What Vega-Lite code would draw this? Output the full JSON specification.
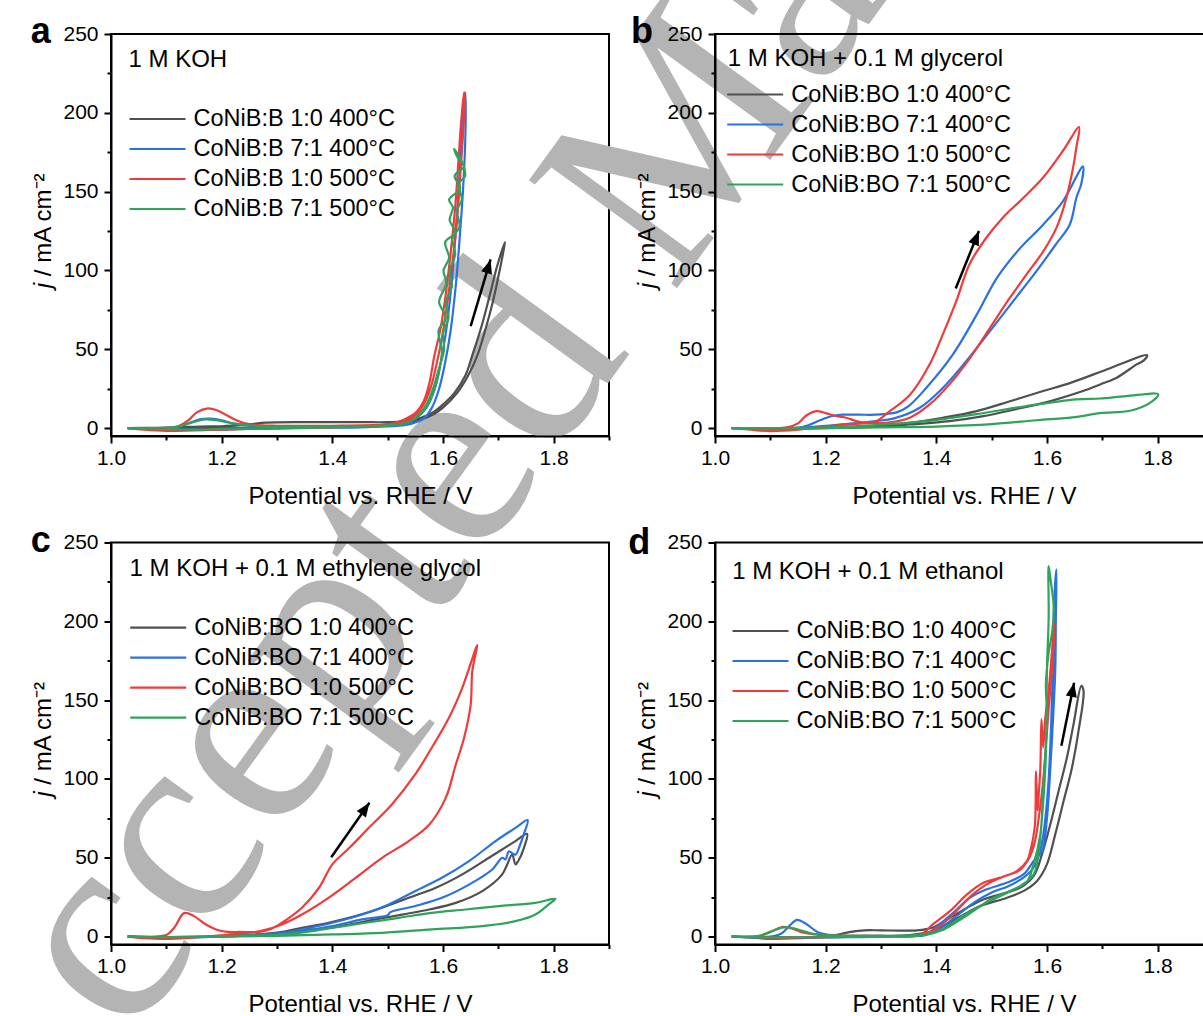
{
"$schema":"https://vega.github.io/schema/vega-lite/v6.json",
"background":"white",
"padding":{"left":-173,"top":-141,"right":0,"bottom":0},
"config":{
 "font":"Liberation Sans",
 "view":{"stroke":"#000","strokeWidth":2},
 "axis":{"zindex":1,"domainColor":"#000","domainWidth":2,"tickColor":"#000","tickWidth":2,"labelColor":"#000","titleColor":"#000","labelFont":"Liberation Sans","titleFont":"Liberation Sans","labelFontSize":21,"titleFontSize":24,"titleFontWeight":"normal","grid":false,"labelFlush":false,"labelOverlap":false,"labelBound":false},
 "axisX":{"tickSize":7,"labelPadding":21,"labelBaseline":"alphabetic","titleY":67,"titleBaseline":"alphabetic"},
 "axisY":{"tickSize":7,"labelPadding":6},
 "legend":{"orient":"none","symbolType":"stroke","symbolSize":3136,"symbolStrokeWidth":2.5,"labelFontSize":23.5,"labelFont":"Liberation Sans","labelColor":"#000","labelOffset":6.5,"labelLimit":400,"rowPadding":0,"clipHeight":30,"padding":0},
 "line":{"interpolate":"catmull-rom","strokeWidth":2.2,"clip":true},
 "text":{"color":"#000","font":"Liberation Sans","align":"left","baseline":"alphabetic"}
},
"datasets":{
"a":[
{"s":"k","x":1.03,"y":0},{"s":"k","x":1.08,"y":0.2},{"s":"k","x":1.12,"y":0.5},{"s":"k","x":1.16,"y":1},{"s":"k","x":1.2,"y":1.2},{"s":"k","x":1.25,"y":2.5},{"s":"k","x":1.28,"y":3.5},{"s":"k","x":1.35,"y":3.8},{"s":"k","x":1.45,"y":3.8},{"s":"k","x":1.5,"y":3.8},{"s":"k","x":1.53,"y":4.5},{"s":"k","x":1.56,"y":6.5},{"s":"k","x":1.584,"y":10.5},{"s":"k","x":1.6,"y":15},{"s":"k","x":1.62,"y":22},{"s":"k","x":1.64,"y":33},{"s":"k","x":1.652,"y":45},{"s":"k","x":1.67,"y":65},{"s":"k","x":1.685,"y":85},{"s":"k","x":1.698,"y":103},{"s":"k","x":1.712,"y":118},
{"s":"k","x":1.708,"y":110},{"s":"k","x":1.7,"y":96},{"s":"k","x":1.69,"y":80},{"s":"k","x":1.677,"y":63},{"s":"k","x":1.663,"y":47},{"s":"k","x":1.645,"y":33},{"s":"k","x":1.625,"y":22},{"s":"k","x":1.6,"y":13},{"s":"k","x":1.584,"y":9},{"s":"k","x":1.56,"y":5.5},{"s":"k","x":1.53,"y":3},{"s":"k","x":1.5,"y":1.5},{"s":"k","x":1.4,"y":1},{"s":"k","x":1.3,"y":0.5},{"s":"k","x":1.2,"y":0},{"s":"k","x":1.1,"y":-0.8},{"s":"k","x":1.05,"y":-0.3},{"s":"k","x":1.03,"y":0},
{"s":"b","x":1.03,"y":0},{"s":"b","x":1.08,"y":0},{"s":"b","x":1.12,"y":0.5},{"s":"b","x":1.14,"y":3},{"s":"b","x":1.16,"y":5.5},{"s":"b","x":1.18,"y":6},{"s":"b","x":1.2,"y":5},{"s":"b","x":1.22,"y":3},{"s":"b","x":1.25,"y":1.5},{"s":"b","x":1.3,"y":1},{"s":"b","x":1.4,"y":1},{"s":"b","x":1.5,"y":1.5},{"s":"b","x":1.53,"y":3},{"s":"b","x":1.55,"y":6},{"s":"b","x":1.57,"y":13},{"s":"b","x":1.585,"y":25},{"s":"b","x":1.595,"y":40},{"s":"b","x":1.605,"y":60},{"s":"b","x":1.615,"y":90},{"s":"b","x":1.622,"y":120},{"s":"b","x":1.628,"y":150},{"s":"b","x":1.633,"y":180},{"s":"b","x":1.637,"y":205},{"s":"b","x":1.64,"y":213},
{"s":"b","x":1.641,"y":205},{"s":"b","x":1.64,"y":180},{"s":"b","x":1.636,"y":150},{"s":"b","x":1.63,"y":120},{"s":"b","x":1.623,"y":90},{"s":"b","x":1.613,"y":60},{"s":"b","x":1.603,"y":40},{"s":"b","x":1.593,"y":25},{"s":"b","x":1.58,"y":13},{"s":"b","x":1.565,"y":6},{"s":"b","x":1.545,"y":3},{"s":"b","x":1.52,"y":1.5},{"s":"b","x":1.45,"y":0.5},{"s":"b","x":1.3,"y":0},{"s":"b","x":1.2,"y":-1},{"s":"b","x":1.15,"y":-1},{"s":"b","x":1.1,"y":-0.5},{"s":"b","x":1.03,"y":0},
{"s":"r","x":1.03,"y":0},{"s":"r","x":1.08,"y":0},{"s":"r","x":1.12,"y":1},{"s":"r","x":1.14,"y":5},{"s":"r","x":1.155,"y":10},{"s":"r","x":1.175,"y":12.5},{"s":"r","x":1.19,"y":11.5},{"s":"r","x":1.21,"y":8},{"s":"r","x":1.23,"y":4.5},{"s":"r","x":1.25,"y":2.5},{"s":"r","x":1.3,"y":1.5},{"s":"r","x":1.4,"y":1.5},{"s":"r","x":1.48,"y":2},{"s":"r","x":1.51,"y":3},{"s":"r","x":1.53,"y":5.5},{"s":"r","x":1.55,"y":9.5},{"s":"r","x":1.565,"y":17},{"s":"r","x":1.575,"y":28},{"s":"r","x":1.585,"y":47},{"s":"r","x":1.595,"y":62},{"s":"r","x":1.605,"y":85},{"s":"r","x":1.615,"y":115},{"s":"r","x":1.622,"y":140},{"s":"r","x":1.628,"y":170},{"s":"r","x":1.633,"y":195},{"s":"r","x":1.638,"y":213},
{"s":"r","x":1.639,"y":205},{"s":"r","x":1.636,"y":185},{"s":"r","x":1.631,"y":160},{"s":"r","x":1.625,"y":130},{"s":"r","x":1.617,"y":105},{"s":"r","x":1.608,"y":80},{"s":"r","x":1.598,"y":57},{"s":"r","x":1.588,"y":40},{"s":"r","x":1.578,"y":26},{"s":"r","x":1.565,"y":15},{"s":"r","x":1.55,"y":8},{"s":"r","x":1.53,"y":4},{"s":"r","x":1.5,"y":2},{"s":"r","x":1.4,"y":0.5},{"s":"r","x":1.25,"y":-0.5},{"s":"r","x":1.15,"y":-1.5},{"s":"r","x":1.1,"y":-1.8},{"s":"r","x":1.06,"y":-1},{"s":"r","x":1.03,"y":0},
{"s":"g","x":1.03,"y":0},{"s":"g","x":1.08,"y":0},{"s":"g","x":1.12,"y":1},{"s":"g","x":1.15,"y":4},{"s":"g","x":1.17,"y":5.5},{"s":"g","x":1.19,"y":5},{"s":"g","x":1.22,"y":3},{"s":"g","x":1.26,"y":1.5},{"s":"g","x":1.3,"y":1},{"s":"g","x":1.4,"y":1},{"s":"g","x":1.5,"y":1.5},{"s":"g","x":1.53,"y":3},{"s":"g","x":1.55,"y":6},{"s":"g","x":1.57,"y":13},{"s":"g","x":1.585,"y":25},{"s":"g","x":1.596,"y":42},{"s":"g","x":1.598,"y":49},{"s":"g","x":1.592,"y":62},{"s":"g","x":1.605,"y":70},{"s":"g","x":1.593,"y":80},{"s":"g","x":1.606,"y":92},{"s":"g","x":1.601,"y":100},{"s":"g","x":1.611,"y":108},{"s":"g","x":1.604,"y":118},{"s":"g","x":1.622,"y":124},{"s":"g","x":1.612,"y":132},{"s":"g","x":1.618,"y":140},{"s":"g","x":1.611,"y":145},{"s":"g","x":1.631,"y":152},{"s":"g","x":1.621,"y":160},{"s":"g","x":1.638,"y":166},{"s":"g","x":1.626,"y":172},{"s":"g","x":1.62,"y":177},{"s":"g","x":1.633,"y":170},{"s":"g","x":1.64,"y":160},{"s":"g","x":1.628,"y":155},{"s":"g","x":1.634,"y":145},{"s":"g","x":1.625,"y":138},{"s":"g","x":1.63,"y":128},{"s":"g","x":1.617,"y":120},{"s":"g","x":1.622,"y":110},{"s":"g","x":1.612,"y":100},{"s":"g","x":1.616,"y":90},{"s":"g","x":1.605,"y":80},{"s":"g","x":1.61,"y":70},{"s":"g","x":1.6,"y":60},{"s":"g","x":1.602,"y":50},{"s":"g","x":1.592,"y":37},{"s":"g","x":1.582,"y":25},{"s":"g","x":1.57,"y":15},{"s":"g","x":1.555,"y":8},{"s":"g","x":1.54,"y":4},{"s":"g","x":1.51,"y":2},{"s":"g","x":1.45,"y":1},{"s":"g","x":1.3,"y":0},{"s":"g","x":1.2,"y":-0.5},{"s":"g","x":1.15,"y":-1},{"s":"g","x":1.1,"y":-0.5},{"s":"g","x":1.03,"y":0}
],
"b":[
{"s":"k","x":1.03,"y":0},{"s":"k","x":1.1,"y":0},{"s":"k","x":1.2,"y":0.3},{"s":"k","x":1.3,"y":1.5},{"s":"k","x":1.352,"y":3.4},{"s":"k","x":1.412,"y":6.6},{"s":"k","x":1.473,"y":10.8},{"s":"k","x":1.533,"y":17},{"s":"k","x":1.593,"y":23.5},{"s":"k","x":1.645,"y":29},{"s":"k","x":1.714,"y":38},{"s":"k","x":1.781,"y":46.3},
{"s":"k","x":1.775,"y":43},{"s":"k","x":1.762,"y":40.4},{"s":"k","x":1.726,"y":32},{"s":"k","x":1.696,"y":27.7},{"s":"k","x":1.665,"y":23.5},{"s":"k","x":1.605,"y":17},{"s":"k","x":1.544,"y":12},{"s":"k","x":1.485,"y":7.6},{"s":"k","x":1.424,"y":4.4},{"s":"k","x":1.352,"y":2.3},{"s":"k","x":1.3,"y":1},{"s":"k","x":1.2,"y":0},{"s":"k","x":1.1,"y":-0.5},{"s":"k","x":1.03,"y":0},
{"s":"b","x":1.03,"y":0},{"s":"b","x":1.1,"y":0},{"s":"b","x":1.15,"y":0.3},{"s":"b","x":1.17,"y":2},{"s":"b","x":1.19,"y":5},{"s":"b","x":1.21,"y":7.5},{"s":"b","x":1.23,"y":8.5},{"s":"b","x":1.26,"y":8.5},{"s":"b","x":1.29,"y":8.5},{"s":"b","x":1.31,"y":9},{"s":"b","x":1.328,"y":10},{"s":"b","x":1.35,"y":14},{"s":"b","x":1.382,"y":25.6},{"s":"b","x":1.43,"y":46.8},{"s":"b","x":1.473,"y":72},{"s":"b","x":1.509,"y":95},{"s":"b","x":1.551,"y":114},{"s":"b","x":1.593,"y":129},{"s":"b","x":1.629,"y":144},{"s":"b","x":1.665,"y":166},
{"s":"b","x":1.662,"y":155},{"s":"b","x":1.653,"y":146},{"s":"b","x":1.641,"y":129},{"s":"b","x":1.617,"y":117},{"s":"b","x":1.581,"y":99.6},{"s":"b","x":1.539,"y":80.6},{"s":"b","x":1.497,"y":61.5},{"s":"b","x":1.454,"y":42.5},{"s":"b","x":1.412,"y":25.6},{"s":"b","x":1.37,"y":12.9},{"s":"b","x":1.322,"y":6},{"s":"b","x":1.29,"y":4.5},{"s":"b","x":1.25,"y":3},{"s":"b","x":1.2,"y":1.5},{"s":"b","x":1.15,"y":0},{"s":"b","x":1.1,"y":-0.5},{"s":"b","x":1.03,"y":0},
{"s":"r","x":1.03,"y":0},{"s":"r","x":1.1,"y":0},{"s":"r","x":1.13,"y":0.5},{"s":"r","x":1.15,"y":3},{"s":"r","x":1.165,"y":8},{"s":"r","x":1.183,"y":10.8},{"s":"r","x":1.2,"y":9.5},{"s":"r","x":1.22,"y":7.5},{"s":"r","x":1.237,"y":6.6},{"s":"r","x":1.255,"y":4.5},{"s":"r","x":1.273,"y":3.4},{"s":"r","x":1.29,"y":4},{"s":"r","x":1.316,"y":10.8},{"s":"r","x":1.352,"y":21},{"s":"r","x":1.388,"y":40.5},{"s":"r","x":1.412,"y":59.6},{"s":"r","x":1.436,"y":80.5},{"s":"r","x":1.46,"y":104},{"s":"r","x":1.49,"y":120.6},{"s":"r","x":1.52,"y":133.5},{"s":"r","x":1.557,"y":146},{"s":"r","x":1.593,"y":159},{"s":"r","x":1.629,"y":176},{"s":"r","x":1.658,"y":191},
{"s":"r","x":1.653,"y":178},{"s":"r","x":1.647,"y":165},{"s":"r","x":1.635,"y":146},{"s":"r","x":1.617,"y":127},{"s":"r","x":1.593,"y":112},{"s":"r","x":1.563,"y":97.5},{"s":"r","x":1.533,"y":82.7},{"s":"r","x":1.497,"y":63.6},{"s":"r","x":1.461,"y":44.6},{"s":"r","x":1.424,"y":27.9},{"s":"r","x":1.388,"y":15},{"s":"r","x":1.352,"y":6.6},{"s":"r","x":1.31,"y":3.4},{"s":"r","x":1.268,"y":3},{"s":"r","x":1.2,"y":1},{"s":"r","x":1.15,"y":-1},{"s":"r","x":1.1,"y":-1.9},{"s":"r","x":1.06,"y":-0.8},{"s":"r","x":1.03,"y":0},
{"s":"g","x":1.03,"y":0},{"s":"g","x":1.1,"y":0},{"s":"g","x":1.2,"y":0.5},{"s":"g","x":1.304,"y":2.3},{"s":"g","x":1.382,"y":4.4},{"s":"g","x":1.473,"y":8.9},{"s":"g","x":1.563,"y":14},{"s":"g","x":1.653,"y":18.2},{"s":"g","x":1.696,"y":18.8},{"s":"g","x":1.743,"y":20.3},{"s":"g","x":1.801,"y":21.4},
{"s":"g","x":1.786,"y":16},{"s":"g","x":1.75,"y":11},{"s":"g","x":1.696,"y":9.5},{"s":"g","x":1.65,"y":7},{"s":"g","x":1.581,"y":5},{"s":"g","x":1.5,"y":2.5},{"s":"g","x":1.4,"y":1},{"s":"g","x":1.3,"y":0.5},{"s":"g","x":1.2,"y":0},{"s":"g","x":1.1,"y":-0.3},{"s":"g","x":1.03,"y":0}
],
"c":[
{"s":"k","x":1.03,"y":0},{"s":"k","x":1.1,"y":-0.3},{"s":"k","x":1.2,"y":0.3},{"s":"k","x":1.3,"y":2.5},{"s":"k","x":1.345,"y":5.6},{"s":"k","x":1.393,"y":8.8},{"s":"k","x":1.442,"y":13},{"s":"k","x":1.49,"y":18.3},{"s":"k","x":1.538,"y":24.6},{"s":"k","x":1.587,"y":31},{"s":"k","x":1.635,"y":39.5},{"s":"k","x":1.683,"y":50},{"s":"k","x":1.731,"y":60.6},{"s":"k","x":1.752,"y":65.2},
{"s":"k","x":1.746,"y":56},{"s":"k","x":1.736,"y":48},{"s":"k","x":1.731,"y":45.8},{"s":"k","x":1.725,"y":52},{"s":"k","x":1.715,"y":45},{"s":"k","x":1.707,"y":39.5},{"s":"k","x":1.671,"y":28.9},{"s":"k","x":1.623,"y":21.4},{"s":"k","x":1.575,"y":17.2},{"s":"k","x":1.526,"y":14},{"s":"k","x":1.478,"y":10.9},{"s":"k","x":1.43,"y":7.7},{"s":"k","x":1.369,"y":4.6},{"s":"k","x":1.3,"y":2},{"s":"k","x":1.2,"y":0},{"s":"k","x":1.1,"y":-0.5},{"s":"k","x":1.03,"y":0},
{"s":"b","x":1.03,"y":0},{"s":"b","x":1.1,"y":-0.3},{"s":"b","x":1.2,"y":0.3},{"s":"b","x":1.309,"y":2.4},{"s":"b","x":1.345,"y":4.6},{"s":"b","x":1.4,"y":8.8},{"s":"b","x":1.454,"y":14},{"s":"b","x":1.502,"y":20.4},{"s":"b","x":1.55,"y":28.9},{"s":"b","x":1.598,"y":37.3},{"s":"b","x":1.647,"y":47.9},{"s":"b","x":1.695,"y":60.6},{"s":"b","x":1.731,"y":69},{"s":"b","x":1.753,"y":73.9},
{"s":"b","x":1.746,"y":65},{"s":"b","x":1.738,"y":57},{"s":"b","x":1.731,"y":52},{"s":"b","x":1.719,"y":54},{"s":"b","x":1.713,"y":49},{"s":"b","x":1.707,"y":50},{"s":"b","x":1.689,"y":42.6},{"s":"b","x":1.647,"y":33},{"s":"b","x":1.598,"y":24.6},{"s":"b","x":1.55,"y":19.4},{"s":"b","x":1.505,"y":15.5},{"s":"b","x":1.5,"y":13.5},{"s":"b","x":1.454,"y":10.9},{"s":"b","x":1.4,"y":6.7},{"s":"b","x":1.345,"y":3.5},{"s":"b","x":1.3,"y":2},{"s":"b","x":1.2,"y":0},{"s":"b","x":1.1,"y":-0.5},{"s":"b","x":1.03,"y":0},
{"s":"r","x":1.03,"y":0},{"s":"r","x":1.08,"y":0},{"s":"r","x":1.1,"y":1},{"s":"r","x":1.115,"y":6},{"s":"r","x":1.132,"y":14.9},{"s":"r","x":1.15,"y":13},{"s":"r","x":1.17,"y":8},{"s":"r","x":1.19,"y":4.5},{"s":"r","x":1.21,"y":3},{"s":"r","x":1.232,"y":3},{"s":"r","x":1.268,"y":3},{"s":"r","x":1.29,"y":5},{"s":"r","x":1.309,"y":8.8},{"s":"r","x":1.345,"y":18.3},{"s":"r","x":1.376,"y":31},{"s":"r","x":1.4,"y":45.8},{"s":"r","x":1.43,"y":56},{"s":"r","x":1.466,"y":69},{"s":"r","x":1.508,"y":84},{"s":"r","x":1.55,"y":103},{"s":"r","x":1.58,"y":120},{"s":"r","x":1.611,"y":139},{"s":"r","x":1.635,"y":158},{"s":"r","x":1.662,"y":185},
{"s":"r","x":1.653,"y":168.5},{"s":"r","x":1.65,"y":147},{"s":"r","x":1.638,"y":126},{"s":"r","x":1.623,"y":109},{"s":"r","x":1.605,"y":88},{"s":"r","x":1.575,"y":71},{"s":"r","x":1.538,"y":60.6},{"s":"r","x":1.49,"y":50},{"s":"r","x":1.442,"y":37.3},{"s":"r","x":1.393,"y":24.6},{"s":"r","x":1.345,"y":14},{"s":"r","x":1.309,"y":7.7},{"s":"r","x":1.27,"y":3.5},{"s":"r","x":1.22,"y":1.5},{"s":"r","x":1.15,"y":-0.5},{"s":"r","x":1.1,"y":-1.5},{"s":"r","x":1.06,"y":-1},{"s":"r","x":1.03,"y":0},
{"s":"g","x":1.03,"y":0},{"s":"g","x":1.1,"y":-0.3},{"s":"g","x":1.2,"y":0.3},{"s":"g","x":1.3,"y":1.2},{"s":"g","x":1.34,"y":2.4},{"s":"g","x":1.4,"y":5.6},{"s":"g","x":1.46,"y":8.8},{"s":"g","x":1.52,"y":11.9},{"s":"g","x":1.58,"y":15.1},{"s":"g","x":1.641,"y":17.2},{"s":"g","x":1.701,"y":19.4},{"s":"g","x":1.767,"y":21.4},{"s":"g","x":1.803,"y":24},
{"s":"g","x":1.791,"y":20.4},{"s":"g","x":1.767,"y":14},{"s":"g","x":1.731,"y":9.8},{"s":"g","x":1.671,"y":6.7},{"s":"g","x":1.58,"y":4.6},{"s":"g","x":1.49,"y":2.4},{"s":"g","x":1.4,"y":1.4},{"s":"g","x":1.3,"y":0.5},{"s":"g","x":1.2,"y":0},{"s":"g","x":1.1,"y":-0.3},{"s":"g","x":1.03,"y":0}
],
"d":[
{"s":"k","x":1.03,"y":0},{"s":"k","x":1.1,"y":-0.3},{"s":"k","x":1.2,"y":0},{"s":"k","x":1.245,"y":3},{"s":"k","x":1.27,"y":4},{"s":"k","x":1.3,"y":4},{"s":"k","x":1.365,"y":4},{"s":"k","x":1.395,"y":6},{"s":"k","x":1.425,"y":12},{"s":"k","x":1.456,"y":18.4},{"s":"k","x":1.486,"y":23.7},{"s":"k","x":1.516,"y":26.9},{"s":"k","x":1.552,"y":31.1},{"s":"k","x":1.576,"y":38.5},{"s":"k","x":1.591,"y":52.3},{"s":"k","x":1.606,"y":71.3},{"s":"k","x":1.621,"y":92.4},{"s":"k","x":1.636,"y":113.6},{"s":"k","x":1.648,"y":134.8},{"s":"k","x":1.662,"y":159},
{"s":"k","x":1.666,"y":156},{"s":"k","x":1.657,"y":130.5},{"s":"k","x":1.645,"y":107},{"s":"k","x":1.63,"y":86},{"s":"k","x":1.615,"y":65},{"s":"k","x":1.6,"y":46},{"s":"k","x":1.582,"y":35.3},{"s":"k","x":1.558,"y":29},{"s":"k","x":1.528,"y":24.7},{"s":"k","x":1.48,"y":19.5},{"s":"k","x":1.45,"y":14},{"s":"k","x":1.42,"y":8},{"s":"k","x":1.39,"y":3},{"s":"k","x":1.35,"y":1},{"s":"k","x":1.25,"y":0},{"s":"k","x":1.15,"y":-0.5},{"s":"k","x":1.1,"y":-0.5},{"s":"k","x":1.03,"y":0},
{"s":"b","x":1.03,"y":0},{"s":"b","x":1.1,"y":0},{"s":"b","x":1.12,"y":2},{"s":"b","x":1.135,"y":7},{"s":"b","x":1.148,"y":10.6},{"s":"b","x":1.165,"y":8},{"s":"b","x":1.185,"y":3},{"s":"b","x":1.21,"y":1},{"s":"b","x":1.3,"y":0.5},{"s":"b","x":1.38,"y":1},{"s":"b","x":1.395,"y":4.7},{"s":"b","x":1.431,"y":15.2},{"s":"b","x":1.461,"y":24.7},{"s":"b","x":1.491,"y":30},{"s":"b","x":1.528,"y":34.3},{"s":"b","x":1.558,"y":39.6},{"s":"b","x":1.576,"y":48},{"s":"b","x":1.591,"y":54},{"s":"b","x":1.6,"y":75.5},{"s":"b","x":1.606,"y":107},{"s":"b","x":1.611,"y":139},{"s":"b","x":1.615,"y":170},{"s":"b","x":1.616,"y":202},{"s":"b","x":1.617,"y":233},
{"s":"b","x":1.614,"y":220},{"s":"b","x":1.612,"y":190},{"s":"b","x":1.613,"y":175},{"s":"b","x":1.61,"y":160},{"s":"b","x":1.607,"y":130},{"s":"b","x":1.603,"y":100},{"s":"b","x":1.597,"y":75},{"s":"b","x":1.59,"y":58},{"s":"b","x":1.578,"y":45},{"s":"b","x":1.56,"y":38},{"s":"b","x":1.53,"y":32},{"s":"b","x":1.5,"y":28},{"s":"b","x":1.47,"y":22},{"s":"b","x":1.44,"y":14},{"s":"b","x":1.41,"y":6},{"s":"b","x":1.38,"y":1.5},{"s":"b","x":1.3,"y":0},{"s":"b","x":1.2,"y":-0.5},{"s":"b","x":1.1,"y":-1.5},{"s":"b","x":1.08,"y":-1},{"s":"b","x":1.03,"y":0},
{"s":"r","x":1.03,"y":0},{"s":"r","x":1.08,"y":0.5},{"s":"r","x":1.1,"y":3},{"s":"r","x":1.121,"y":6.1},{"s":"r","x":1.14,"y":5},{"s":"r","x":1.16,"y":2.5},{"s":"r","x":1.2,"y":0.8},{"s":"r","x":1.3,"y":0.5},{"s":"r","x":1.37,"y":1},{"s":"r","x":1.395,"y":8.2},{"s":"r","x":1.425,"y":16.3},{"s":"r","x":1.456,"y":27},{"s":"r","x":1.486,"y":34.3},{"s":"r","x":1.516,"y":37.4},{"s":"r","x":1.546,"y":41.7},{"s":"r","x":1.564,"y":48},{"s":"r","x":1.57,"y":54.4},{"s":"r","x":1.578,"y":70},{"s":"r","x":1.58,"y":105},{"s":"r","x":1.583,"y":80},{"s":"r","x":1.585,"y":90},{"s":"r","x":1.588,"y":107},{"s":"r","x":1.59,"y":138},{"s":"r","x":1.593,"y":120},{"s":"r","x":1.597,"y":139},{"s":"r","x":1.603,"y":156},{"s":"r","x":1.609,"y":181},{"s":"r","x":1.613,"y":199},
{"s":"r","x":1.612,"y":185},{"s":"r","x":1.608,"y":165},{"s":"r","x":1.603,"y":145},{"s":"r","x":1.598,"y":120},{"s":"r","x":1.592,"y":95},{"s":"r","x":1.585,"y":75},{"s":"r","x":1.578,"y":60},{"s":"r","x":1.568,"y":50},{"s":"r","x":1.55,"y":42},{"s":"r","x":1.52,"y":38},{"s":"r","x":1.49,"y":33},{"s":"r","x":1.46,"y":25},{"s":"r","x":1.43,"y":14},{"s":"r","x":1.4,"y":5},{"s":"r","x":1.37,"y":1},{"s":"r","x":1.3,"y":0},{"s":"r","x":1.2,"y":-0.3},{"s":"r","x":1.12,"y":-0.8},{"s":"r","x":1.08,"y":-0.5},{"s":"r","x":1.03,"y":0},
{"s":"g","x":1.03,"y":0},{"s":"g","x":1.08,"y":0.5},{"s":"g","x":1.1,"y":3},{"s":"g","x":1.127,"y":6},{"s":"g","x":1.15,"y":4.5},{"s":"g","x":1.175,"y":2},{"s":"g","x":1.21,"y":0.8},{"s":"g","x":1.3,"y":0.5},{"s":"g","x":1.38,"y":1.5},{"s":"g","x":1.407,"y":4},{"s":"g","x":1.443,"y":12},{"s":"g","x":1.479,"y":19.5},{"s":"g","x":1.516,"y":25.8},{"s":"g","x":1.552,"y":32.2},{"s":"g","x":1.576,"y":39.6},{"s":"g","x":1.585,"y":54},{"s":"g","x":1.591,"y":75.5},{"s":"g","x":1.597,"y":107},{"s":"g","x":1.599,"y":139},{"s":"g","x":1.6,"y":171},{"s":"g","x":1.603,"y":202},{"s":"g","x":1.603,"y":235},
{"s":"g","x":1.607,"y":225},{"s":"g","x":1.612,"y":210},{"s":"g","x":1.61,"y":195},{"s":"g","x":1.603,"y":180},{"s":"g","x":1.598,"y":160},{"s":"g","x":1.6,"y":140},{"s":"g","x":1.596,"y":110},{"s":"g","x":1.592,"y":85},{"s":"g","x":1.588,"y":65},{"s":"g","x":1.575,"y":45},{"s":"g","x":1.564,"y":35},{"s":"g","x":1.54,"y":30},{"s":"g","x":1.5,"y":24},{"s":"g","x":1.47,"y":17},{"s":"g","x":1.44,"y":10},{"s":"g","x":1.41,"y":4},{"s":"g","x":1.38,"y":1},{"s":"g","x":1.3,"y":0},{"s":"g","x":1.2,"y":-0.3},{"s":"g","x":1.1,"y":-0.5},{"s":"g","x":1.03,"y":0}
]
},
"concat":[
{"width":498,"height":402,
 "layer":[
  {"data":{"values":[{"x":0.8174,"y":-493.7,"t":"Accepted Ma"}]},"mark":{"type":"text","angle":-54,"font":"Liberation Serif","fontSize":280,"color":"#b4b4b4"},
   "encoding":{"x":{"field":"x","type":"quantitative","scale":{"domain":[1,1.9],"nice":false,"zero":false},"axis":null},"y":{"field":"y","type":"quantitative","scale":{"domain":[-5,250],"nice":false,"zero":false},"axis":null},"text":{"field":"t"}}},
  {"data":{"name":"a"},"transform":[{"window":[{"op":"row_number","as":"i"}]}],"mark":{"type":"line"},
   "encoding":{"x":{"field":"x","type":"quantitative","axis":{"zindex":1,"values":[1,1.2,1.4,1.6,1.8],"format":".1f","title":"Potential vs. RHE / V"}},
    "y":{"field":"y","type":"quantitative","axis":{"zindex":1,"values":[0,50,100,150,200,250],"title":null}},
    "color":{"field":"s","type":"nominal","scale":{"domain":["k","b","r","g"],"range":["#505050","#2a72e0","#ef3b3b","#2ea35a"]},"legend":{"title":null,"legendX":17,"legendY":70,"labelExpr":"datum.label=='k'?'CoNiB:B 1:0 400°C':datum.label=='b'?'CoNiB:B 7:1 400°C':datum.label=='r'?'CoNiB:B 1:0 500°C':'CoNiB:B 7:1 500°C'"}},
    "order":{"field":"i"}}},
  {"data":{"values":[{"x":1.65,"y":64.7,"x2":1.686,"y2":107}]},"mark":{"type":"rule","strokeWidth":2.5,"color":"#000"},
   "encoding":{"x":{"field":"x","type":"quantitative","axis":{"zindex":1,"orient":"bottom","values":[1.1,1.3,1.5,1.7,1.9],"tickSize":4,"labels":false,"domain":false,"title":null}},"y":{"field":"y","type":"quantitative","axis":{"zindex":1,"orient":"left","values":[25,75,125,175,225],"tickSize":4,"labels":false,"domain":false,"title":null}},"x2":{"field":"x2"},"y2":{"field":"y2"}}},
  {"data":{"values":[{"x2":1.686,"y2":107}]},"mark":{"type":"point","shape":"M0,0L0.4,1L-0.4,1Z","filled":true,"color":"#000","size":784,"angle":16.6,"opacity":1},
   "encoding":{"x":{"field":"x2","type":"quantitative","axis":null},"y":{"field":"y2","type":"quantitative","axis":null}}},
  {"data":{"values":[{"x":1.0316,"y":228.8,"t":"1 M KOH"}]},"mark":{"type":"text","fontSize":24},
   "encoding":{"x":{"field":"x","type":"quantitative","axis":null},"y":{"field":"y","type":"quantitative","axis":null},"text":{"field":"t"}}},
  {"data":{"values":[{"x":0.855,"y":244.6,"t":"a"}]},"mark":{"type":"text","fontSize":36,"fontWeight":"bold"},
   "encoding":{"x":{"field":"x","type":"quantitative","axis":null},"y":{"field":"y","type":"quantitative","axis":null},"text":{"field":"t"}}},
  {"data":{"values":[{"x":0.8915,"y":88.8,"t":"j"}]},"mark":{"type":"text","fontSize":24,"fontStyle":"italic","angle":-90},
   "encoding":{"x":{"field":"x","type":"quantitative","axis":null},"y":{"field":"y","type":"quantitative","axis":null},"text":{"field":"t"}}},
  {"data":{"values":[{"x":0.8915,"y":96.4,"t":"/ mA cm⁻²"}]},"mark":{"type":"text","fontSize":24,"angle":-90},
   "encoding":{"x":{"field":"x","type":"quantitative","axis":null},"y":{"field":"y","type":"quantitative","axis":null},"text":{"field":"t"}}}
 ],
 "resolve":{"axis":{"x":"independent","y":"independent"}}},
{"width":498,"height":402,
 "layer":[
  {"data":{"name":"b"},"transform":[{"window":[{"op":"row_number","as":"i"}]}],"mark":{"type":"line"},
   "encoding":{"x":{"field":"x","type":"quantitative","scale":{"domain":[1,1.9],"nice":false,"zero":false},"axis":{"zindex":1,"values":[1,1.2,1.4,1.6,1.8],"format":".1f","title":"Potential vs. RHE / V"}},
    "y":{"field":"y","type":"quantitative","scale":{"domain":[-5,250],"nice":false,"zero":false},"axis":{"zindex":1,"values":[0,50,100,150,200,250],"title":null}},
    "color":{"field":"s","type":"nominal","scale":{"domain":["k","b","r","g"],"range":["#505050","#2a72e0","#ef3b3b","#2ea35a"]},"legend":{"title":null,"legendX":10.7,"legendY":45.5,"labelExpr":"datum.label=='k'?'CoNiB:BO 1:0 400°C':datum.label=='b'?'CoNiB:BO 7:1 400°C':datum.label=='r'?'CoNiB:BO 1:0 500°C':'CoNiB:BO 7:1 500°C'"}},
    "order":{"field":"i"}}},
  {"data":{"values":[{"x":1.435,"y":88.6,"x2":1.477,"y2":125}]},"mark":{"type":"rule","strokeWidth":2.5,"color":"#000"},
   "encoding":{"x":{"field":"x","type":"quantitative","axis":{"zindex":1,"orient":"bottom","values":[1.1,1.3,1.5,1.7,1.9],"tickSize":4,"labels":false,"domain":false,"title":null}},"y":{"field":"y","type":"quantitative","axis":{"zindex":1,"orient":"left","values":[25,75,125,175,225],"tickSize":4,"labels":false,"domain":false,"title":null}},"x2":{"field":"x2"},"y2":{"field":"y2"}}},
  {"data":{"values":[{"x2":1.477,"y2":125}]},"mark":{"type":"point","shape":"M0,0L0.4,1L-0.4,1Z","filled":true,"color":"#000","size":784,"angle":22,"opacity":1},
   "encoding":{"x":{"field":"x2","type":"quantitative","axis":null},"y":{"field":"y2","type":"quantitative","axis":null}}},
  {"data":{"values":[{"x":1.023,"y":229.4,"t":"1 M KOH + 0.1 M glycerol"}]},"mark":{"type":"text","fontSize":24},
   "encoding":{"x":{"field":"x","type":"quantitative","axis":null},"y":{"field":"y","type":"quantitative","axis":null},"text":{"field":"t"}}},
  {"data":{"values":[{"x":0.848,"y":244.6,"t":"b"}]},"mark":{"type":"text","fontSize":36,"fontWeight":"bold"},
   "encoding":{"x":{"field":"x","type":"quantitative","axis":null},"y":{"field":"y","type":"quantitative","axis":null},"text":{"field":"t"}}},
  {"data":{"values":[{"x":0.8915,"y":88.8,"t":"j"}]},"mark":{"type":"text","fontSize":24,"fontStyle":"italic","angle":-90},
   "encoding":{"x":{"field":"x","type":"quantitative","axis":null},"y":{"field":"y","type":"quantitative","axis":null},"text":{"field":"t"}}},
  {"data":{"values":[{"x":0.8915,"y":96.4,"t":"/ mA cm⁻²"}]},"mark":{"type":"text","fontSize":24,"angle":-90},
   "encoding":{"x":{"field":"x","type":"quantitative","axis":null},"y":{"field":"y","type":"quantitative","axis":null},"text":{"field":"t"}}}
 ],
 "resolve":{"axis":{"x":"independent","y":"independent"}}},
{"width":498,"height":402,
 "layer":[
  {"data":{"name":"c"},"transform":[{"window":[{"op":"row_number","as":"i"}]}],"mark":{"type":"line"},
   "encoding":{"x":{"field":"x","type":"quantitative","scale":{"domain":[1,1.9],"nice":false,"zero":false},"axis":{"zindex":1,"values":[1,1.2,1.4,1.6,1.8],"format":".1f","title":"Potential vs. RHE / V"}},
    "y":{"field":"y","type":"quantitative","scale":{"domain":[-5,250],"nice":false,"zero":false},"axis":{"zindex":1,"values":[0,50,100,150,200,250],"title":null}},
    "color":{"field":"s","type":"nominal","scale":{"domain":["k","b","r","g"],"range":["#505050","#2a72e0","#ef3b3b","#2ea35a"]},"legend":{"title":null,"legendX":17.7,"legendY":70.2,"labelExpr":"datum.label=='k'?'CoNiB:BO 1:0 400°C':datum.label=='b'?'CoNiB:BO 7:1 400°C':datum.label=='r'?'CoNiB:BO 1:0 500°C':'CoNiB:BO 7:1 500°C'"}},
    "order":{"field":"i"}}},
  {"data":{"values":[{"x":1.398,"y":50.4,"x2":1.467,"y2":84.9}]},"mark":{"type":"rule","strokeWidth":2.5,"color":"#000"},
   "encoding":{"x":{"field":"x","type":"quantitative","axis":{"zindex":1,"orient":"bottom","values":[1.1,1.3,1.5,1.7,1.9],"tickSize":4,"labels":false,"domain":false,"title":null}},"y":{"field":"y","type":"quantitative","axis":{"zindex":1,"orient":"left","values":[25,75,125,175,225],"tickSize":4,"labels":false,"domain":false,"title":null}},"x2":{"field":"x2"},"y2":{"field":"y2"}}},
  {"data":{"values":[{"x2":1.467,"y2":84.9}]},"mark":{"type":"point","shape":"M0,0L0.4,1L-0.4,1Z","filled":true,"color":"#000","size":784,"angle":35,"opacity":1},
   "encoding":{"x":{"field":"x2","type":"quantitative","axis":null},"y":{"field":"y2","type":"quantitative","axis":null}}},
  {"data":{"values":[{"x":1.0335,"y":228.7,"t":"1 M KOH + 0.1 M ethylene glycol"}]},"mark":{"type":"text","fontSize":24},
   "encoding":{"x":{"field":"x","type":"quantitative","axis":null},"y":{"field":"y","type":"quantitative","axis":null},"text":{"field":"t"}}},
  {"data":{"values":[{"x":0.855,"y":244,"t":"c"}]},"mark":{"type":"text","fontSize":36,"fontWeight":"bold"},
   "encoding":{"x":{"field":"x","type":"quantitative","axis":null},"y":{"field":"y","type":"quantitative","axis":null},"text":{"field":"t"}}},
  {"data":{"values":[{"x":0.8915,"y":88.8,"t":"j"}]},"mark":{"type":"text","fontSize":24,"fontStyle":"italic","angle":-90},
   "encoding":{"x":{"field":"x","type":"quantitative","axis":null},"y":{"field":"y","type":"quantitative","axis":null},"text":{"field":"t"}}},
  {"data":{"values":[{"x":0.8915,"y":96.4,"t":"/ mA cm⁻²"}]},"mark":{"type":"text","fontSize":24,"angle":-90},
   "encoding":{"x":{"field":"x","type":"quantitative","axis":null},"y":{"field":"y","type":"quantitative","axis":null},"text":{"field":"t"}}}
 ],
 "resolve":{"axis":{"x":"independent","y":"independent"}}},
{"width":498,"height":402,
 "layer":[
  {"data":{"name":"d"},"transform":[{"window":[{"op":"row_number","as":"i"}]}],"mark":{"type":"line"},
   "encoding":{"x":{"field":"x","type":"quantitative","scale":{"domain":[1,1.9],"nice":false,"zero":false},"axis":{"zindex":1,"values":[1,1.2,1.4,1.6,1.8],"format":".1f","title":"Potential vs. RHE / V"}},
    "y":{"field":"y","type":"quantitative","scale":{"domain":[-5,250],"nice":false,"zero":false},"axis":{"zindex":1,"values":[0,50,100,150,200,250],"title":null}},
    "color":{"field":"s","type":"nominal","scale":{"domain":["k","b","r","g"],"range":["#505050","#2a72e0","#ef3b3b","#2ea35a"]},"legend":{"title":null,"legendX":16,"legendY":73.5,"labelExpr":"datum.label=='k'?'CoNiB:BO 1:0 400°C':datum.label=='b'?'CoNiB:BO 7:1 400°C':datum.label=='r'?'CoNiB:BO 1:0 500°C':'CoNiB:BO 7:1 500°C'"}},
    "order":{"field":"i"}}},
  {"data":{"values":[{"x":1.626,"y":121,"x2":1.649,"y2":161}]},"mark":{"type":"rule","strokeWidth":2.5,"color":"#000"},
   "encoding":{"x":{"field":"x","type":"quantitative","axis":{"zindex":1,"orient":"bottom","values":[1.1,1.3,1.5,1.7,1.9],"tickSize":4,"labels":false,"domain":false,"title":null}},"y":{"field":"y","type":"quantitative","axis":{"zindex":1,"orient":"left","values":[25,75,125,175,225],"tickSize":4,"labels":false,"domain":false,"title":null}},"x2":{"field":"x2"},"y2":{"field":"y2"}}},
  {"data":{"values":[{"x2":1.649,"y2":161}]},"mark":{"type":"point","shape":"M0,0L0.4,1L-0.4,1Z","filled":true,"color":"#000","size":784,"angle":11.6,"opacity":1},
   "encoding":{"x":{"field":"x2","type":"quantitative","axis":null},"y":{"field":"y2","type":"quantitative","axis":null}}},
  {"data":{"values":[{"x":1.031,"y":226.7,"t":"1 M KOH + 0.1 M ethanol"}]},"mark":{"type":"text","fontSize":24},
   "encoding":{"x":{"field":"x","type":"quantitative","axis":null},"y":{"field":"y","type":"quantitative","axis":null},"text":{"field":"t"}}},
  {"data":{"values":[{"x":0.843,"y":242.8,"t":"d"}]},"mark":{"type":"text","fontSize":36,"fontWeight":"bold"},
   "encoding":{"x":{"field":"x","type":"quantitative","axis":null},"y":{"field":"y","type":"quantitative","axis":null},"text":{"field":"t"}}},
  {"data":{"values":[{"x":0.8915,"y":88.8,"t":"j"}]},"mark":{"type":"text","fontSize":24,"fontStyle":"italic","angle":-90},
   "encoding":{"x":{"field":"x","type":"quantitative","axis":null},"y":{"field":"y","type":"quantitative","axis":null},"text":{"field":"t"}}},
  {"data":{"values":[{"x":0.8915,"y":96.4,"t":"/ mA cm⁻²"}]},"mark":{"type":"text","fontSize":24,"angle":-90},
   "encoding":{"x":{"field":"x","type":"quantitative","axis":null},"y":{"field":"y","type":"quantitative","axis":null},"text":{"field":"t"}}}
 ],
 "resolve":{"axis":{"x":"independent","y":"independent"}}}
],
"columns":2,
"spacing":{"row":106.5,"column":106},
"bounds":"flush",
"resolve":{"scale":{"color":"independent"},"legend":{"color":"independent"}}
}
